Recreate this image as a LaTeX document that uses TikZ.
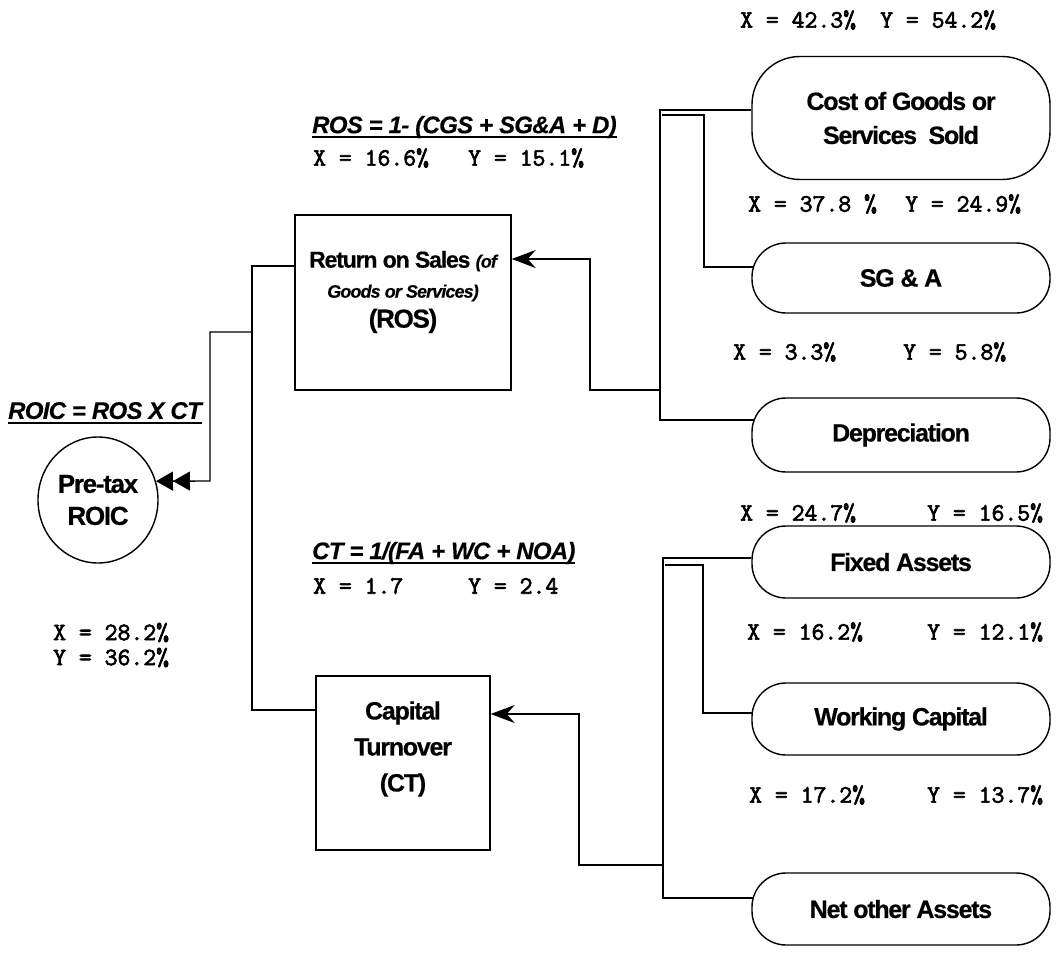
\documentclass[tikz,border=0pt]{standalone}
\usepackage{fontspec}
\setmainfont{Liberation Sans}
\newfontfamily\labfont[LetterSpace=-5,FakeBold=0.5]{Liberation Sans}
\newfontfamily\eqfont[LetterSpace=-3,FakeBold=0.3]{Liberation Sans}
\newfontfamily\valfont[FakeBold=2.6]{Latin Modern Mono}
\usetikzlibrary{arrows.meta,shapes.geometric}

% X and Y values on one line, the Y part starting at a fixed offset
\newcommand\pair[3]{\makebox[#1][l]{#2}#3}
% underlined formula text
\newsavebox\ulnbox
\newcommand\uln[1]{\sbox\ulnbox{#1}\rlap{\rule[-5pt]{\wd\ulnbox}{1.8pt}}\usebox\ulnbox}

\tikzset{
  wire/.style={line width=1.4pt},
  feed/.style={wire, -{Stealth[length=24pt,width=18pt,inset=8pt]}},
  twin/.style={wire, -{Triangle[length=17pt,width=19pt]Triangle[length=17pt,width=19pt]}},
  pill/.style={draw, line width=1.4pt, rounded corners=34pt, minimum width=298pt,
    minimum height=72pt, inner sep=0pt, align=center,
    font=\labfont\bfseries\fontsize{25}{34}\selectfont},
  card/.style={draw, line width=1.4pt, inner sep=0pt},
  cardtext/.style={inner sep=0pt, align=center},
  val/.style={anchor=west, inner sep=0pt, font=\valfont\fontsize{25}{25}\selectfont},
  formula/.style={anchor=west, inner sep=0pt,
    font=\eqfont\bfseries\itshape\fontsize{24}{28}\selectfont},
}

\begin{document}
\begin{tikzpicture}[x=1pt, y=-1pt]
\useasboundingbox (0,0) rectangle (1057,963);
\fill[white] (0,0) rectangle (1057,963);

% ---- cost components (right column) ----
\node[pill, minimum height=123pt, rounded corners=48pt] (cost) at (901,118) {Cost of Goods or\\Services\ \ Sold};
\node[pill, minimum height=70pt] (sga) at (901,278) {SG \& A};
\node[pill, minimum height=74pt] (dep) at (901,435) {Depreciation};
\node[pill] (fa) at (901,562) {Fixed Assets};
\node[pill] (wc) at (901,719) {Working Capital};
\node[pill] (noa) at (901,909) {Net other Assets};

% ---- drivers ----
\node[card, minimum width=216pt, minimum height=175pt] (ros) at (403,302.5) {};
\node[cardtext, font=\labfont\bfseries\fontsize{23}{30}\selectfont] (rostext) at (403,292)
  {Return on Sales {\itshape\fontsize{18}{30}\selectfont(of}\\
   {\itshape\fontsize{18}{30}\selectfont Goods or Services)}\\
   {\fontsize{26}{30}\selectfont(ROS)}};
\node[card, minimum width=174pt, minimum height=174pt] (ct) at (403,763) {};
\node[cardtext, font=\labfont\bfseries\fontsize{25}{36}\selectfont] (cttext) at (403,749)
  {Capital\\Turnover\\(CT)};

\node[ellipse, draw, line width=1.4pt, minimum width=120pt, minimum height=126pt,
  inner sep=0pt, align=center, font=\labfont\bfseries\fontsize{26}{32}\selectfont]
  (roic) at (98,500) {Pre-tax\\ROIC};

% ---- formulas ----
\node[formula] (fros) at (312,127) {\uln{ROS = 1- (CGS + SG\&A + D)}};
\node[formula] (froic) at (8,413) {\uln{ROIC = ROS X CT}};
\node[formula] (fct) at (312,553) {\uln{CT = 1/(FA + WC + NOA)}};

% ---- X / Y values ----
\node[val] (v1) at (740,20) {\pair{140pt}{X = 42.3\%}{Y = 54.2\%}};
\node[val] (v2) at (313,158) {\pair{155pt}{X = 16.6\%}{Y = 15.1\%}};
\node[val] (v3) at (748,204) {\pair{157pt}{X = 37.8 \%}{Y = 24.9\%}};
\node[val] (v4) at (733,352) {\pair{170pt}{X = 3.3\%}{Y = 5.8\%}};
\node[val] (v5) at (740,513) {\pair{187pt}{X = 24.7\%}{Y = 16.5\%}};
\node[val] (v6) at (313,586) {\pair{155pt}{X = 1.7}{Y = 2.4}};
\node[val] (v7) at (747,632) {\pair{180pt}{X = 16.2\%}{Y = 12.1\%}};
\node[val, align=left] (v8) at (53,645) {X = 28.2\%\\Y = 36.2\%};
\node[val] (v9) at (749,795) {\pair{178pt}{X = 17.2\%}{Y = 13.7\%}};

% ---- junction points ----
\coordinate (tbusA) at (660,110);
\coordinate (tbusB) at (660,420);
\coordinate (tsubA) at (662,115);
\coordinate (tsubB) at (704,115);
\coordinate (tsubC) at (704,267);
\coordinate (tout) at (660,390);
\coordinate (tfeed) at (590,390);
\coordinate (tfeedB) at (590,259);

\coordinate (bbusA) at (663,558);
\coordinate (bbusB) at (663,898);
\coordinate (bsubA) at (665,565);
\coordinate (bsubB) at (703,565);
\coordinate (bsubC) at (703,713);
\coordinate (bout) at (663,865);
\coordinate (bfeed) at (579,865);
\coordinate (bfeedB) at (579,714);

\coordinate (lbusA) at (252,266);
\coordinate (lbusB) at (252,710);
\coordinate (lout) at (252,332);
\coordinate (lfeed) at (210,332);
\coordinate (lfeedB) at (210,481);

% ---- connectors: ROS branch ----
\draw[wire] (cost.west |- tbusA) -- (tbusA) -- (tbusB) -- ([xshift=3pt]dep.west |- tbusB);
\draw[wire] (tsubA) -- (tsubB) -- (tsubC) -- ([xshift=2pt]sga.west |- tsubC);
\draw[feed] (tout) -- (tfeed) -- (tfeedB) -- (ros.east |- tfeedB);

% ---- connectors: CT branch ----
\draw[wire] (fa.west |- bbusA) -- (bbusA) -- (bbusB) -- ([xshift=2pt]noa.west |- bbusB);
\draw[wire] (bsubA) -- (bsubB) -- (bsubC) -- ([xshift=1pt]wc.west |- bsubC);
\draw[feed] (bout) -- (bfeed) -- (bfeedB) -- (ct.east |- bfeedB);

% ---- connectors: ROIC ----
\draw[wire] (ros.west |- lbusA) -- (lbusA) -- (lbusB) -- (ct.west |- lbusB);
\draw[twin] (lout) -- (lfeed) -- (lfeedB) -- (roic.18);
\end{tikzpicture}
\end{document}
